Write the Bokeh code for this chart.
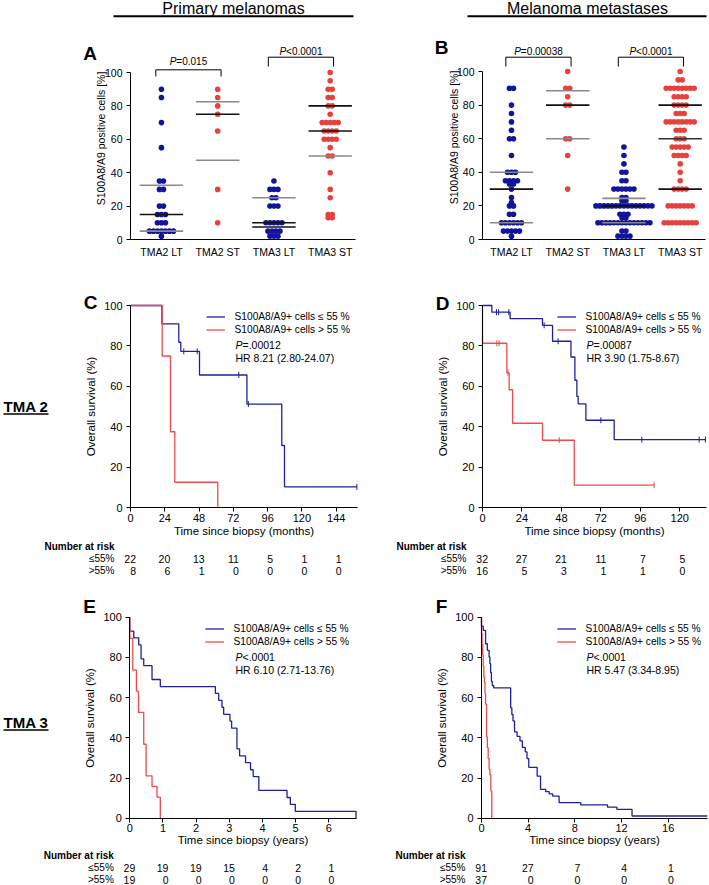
import numpy as np
from bokeh.plotting import figure
from bokeh.models import (Range1d, FixedTicker, Label, LabelSet, Arrow, Legend,
                          LegendItem, ColumnDataSource)
from bokeh.layouts import column, row
from bokeh.embed import file_html
from bokeh.resources import INLINE
from bokeh.core.properties import value

FONT = "Liberation Sans"
DOT_BLUE = "#12149c"
DOT_RED = "#e8413d"
KM_BLUE = "#1f219c"
KM_RED = "#ec4c4c"
DARK = "#111111"
GREY = "#8a8a8a"

# ------------------------------------------------------------------ scatter data
categories = ["TMA2 LT", "TMA2 ST", "TMA3 LT", "TMA3 ST"]

# Panel A - primary melanomas (value in %, number of dots at that value)
A_tma2_lt_vals = [90, 85, 70, 55, 35, 30, 20, 15, 10, 5, 2]
A_tma2_lt_n = [1, 1, 1, 1, 2, 2, 2, 3, 3, 7, 1]
A_tma2_st_vals = [90, 85, 80, 75, 65, 30, 10]
A_tma2_st_n = [1, 1, 1, 1, 1, 1, 1]
A_tma3_lt_vals = [35, 30, 25, 20, 10, 5, 2]
A_tma3_lt_n = [1, 3, 2, 3, 5, 4, 3]
A_tma3_st_vals = [100, 95, 90, 85, 80, 75, 70, 65, 60, 55, 50, 40, 30, 25, 15, 13]
A_tma3_st_n = [1, 1, 2, 2, 2, 1, 5, 4, 4, 1, 2, 1, 1, 1, 2, 2]
A_q1 = [5, 47.5, 7.5, 50]
A_median = [15, 75, 10, 65]
A_q3 = [32.5, 82.5, 25, 80]
A_pvals = ["=0.015", "<0.0001"]

# Panel B - melanoma metastases
B_tma2_lt_vals = [90, 80, 75, 70, 65, 60, 50, 40, 35, 33, 30, 25, 22, 20, 15, 10, 5, 2]
B_tma2_lt_n = [2, 1, 1, 1, 1, 2, 1, 3, 4, 2, 1, 1, 1, 2, 2, 6, 5, 1]
B_tma2_st_vals = [100, 90, 85, 80, 60, 50, 30]
B_tma2_st_n = [1, 2, 1, 2, 2, 1, 1]
B_tma3_lt_vals = [55, 50, 45, 40, 35, 30, 25, 23, 20, 15, 13, 10, 5, 2]
B_tma3_lt_n = [1, 1, 1, 2, 2, 6, 2, 2, 15, 3, 2, 14, 2, 4]
B_tma3_st_vals = [100, 95, 90, 85, 80, 75, 70, 65, 60, 55, 50, 45, 40, 35, 30, 20, 10]
B_tma3_st_n = [1, 2, 8, 4, 4, 3, 8, 3, 3, 5, 4, 1, 1, 1, 4, 7, 9]
B_q1 = [10, 60, 10, 30]
B_median = [30, 80, 20, 60]
B_q3 = [40, 88.5, 24.5, 80]
B_pvals = ["=0.00038", "<0.0001"]

# ------------------------------------------------------------------ survival data
LEG_LE = "S100A8/A9+ cells \u2264 55 %"
LEG_GT = "S100A8/A9+ cells > 55 %"

C_ticks = [0, 24, 48, 72, 96, 120, 144]
C_blue_t = [22, 33.8, 35.2, 48.3, 81.5, 105.9, 107.8]
C_blue_s = [90.9, 81.8, 77.3, 65.6, 51.2, 30.7, 10.2]
C_blue_end = 158.5
C_blue_cens = [37.3, 46.7, 75.8, 82.5, 158.5]
C_red_t = [22.2, 28, 31, 61.1]
C_red_s = [75, 37.5, 12.5, 0]
C_red_end = None
C_red_cens = []
C_risk_le = [22, 20, 13, 11, 5, 1, 1]
C_risk_gt = [8, 6, 1, 0, 0, 0, 0]
C_p = "=.00012"
C_hr = "HR 8.21 (2.80-24.07)"

D_ticks = [0, 24, 48, 72, 96, 120]
D_blue_t = [5.7, 16.8, 36.5, 42.6, 53.8, 56.2, 57.4, 58.2, 62.9, 80.1]
D_blue_s = [96.7, 93.5, 90.2, 82.3, 74.5, 63.0, 55.0, 51.3, 43.2, 33.6]
D_blue_end = 136.0
D_blue_cens = [8.5, 9.8, 16.0, 37.5, 46.0, 72.0, 96.9, 131.8, 135.6]
D_red_t = [0, 14.8, 16.2, 18.3, 36.5, 55.8]
D_red_s = [81.3, 66.7, 58.3, 41.7, 33.3, 11.1]
D_red_end = 104.4
D_red_cens = [8.7, 10.1, 15.5, 46.7, 104.4]
D_risk_le = [32, 27, 21, 11, 7, 5]
D_risk_gt = [16, 5, 3, 1, 1, 0]
D_p = "=.00087"
D_hr = "HR 3.90 (1.75-8.67)"

E_ticks = [0, 1, 2, 3, 4, 5, 6]
E_blue_t = [0, 0.12, 0.27, 0.34, 0.42, 0.67, 0.92, 2.58, 2.68, 2.78, 2.83, 3.02, 3.07,
            3.23, 3.31, 3.49, 3.64, 3.72, 3.89, 4.74, 4.84, 4.99, 6.82]
E_blue_s = [93.1, 89.7, 86.2, 79.3, 75.9, 69.0, 65.5, 62.1, 58.6, 55.2, 51.7, 48.3, 44.8,
            34.5, 31.0, 27.6, 24.1, 20.7, 13.8, 10.3, 6.9, 3.4, 0]
E_blue_end = None
E_blue_cens = []
E_red_t = [0, 0.09, 0.2, 0.26, 0.42, 0.49, 0.67, 0.82, 0.92]
E_red_s = [89.5, 73.7, 63.2, 52.6, 36.8, 21.1, 15.8, 10.5, 0]
E_red_end = None
E_red_cens = []
E_risk_le = [29, 19, 19, 15, 4, 2, 1]
E_risk_gt = [19, 0, 0, 0, 0, 0, 0]
E_p = "<.0001"
E_hr = "HR 6.10 (2.71-13.76)"

F_ticks = [0, 4, 8, 12, 16]
F_blue_t = [0, 0.15, 0.35, 0.5, 0.65, 0.72, 0.78, 0.85, 0.92, 1.05,
            2.5, 2.6, 2.7, 2.83, 3.05, 3.3, 3.5, 3.75, 3.9, 4.05,
            4.77, 5.06, 5.5, 5.8, 6.1, 6.65, 8.5, 10.8, 11.6, 12.9]
F_blue_s = [95.6, 93.4, 86.8, 83.5, 80.2, 76.9, 72.5, 68.1, 66.0, 64.8,
            54.9, 51.6, 48.4, 42.9, 40.7, 38.5, 35.2, 33.0, 29.7, 25.3,
            20.9, 14.3, 13.2, 12.1, 11.0, 7.7, 6.6, 5.5, 4.4, 1.1]
F_blue_end = 19.35
F_blue_cens = []
F_red_t = [0, 0.05, 0.1, 0.15, 0.2, 0.25, 0.3, 0.35, 0.43, 0.5, 0.57, 0.65, 0.72, 0.8, 0.88]
F_red_s = [91.9, 86.5, 81.1, 75.7, 70.3, 67.6, 62.2, 56.8, 40.5, 35.1, 29.7, 24.3, 21.6, 13.5, 0]
F_red_end = None
F_red_cens = []
F_risk_le = [91, 27, 7, 4, 1]
F_risk_gt = [37, 0, 0, 0, 0]
F_p = "<.0001"
F_hr = "HR 5.47 (3.34-8.95)"

# ------------------------------------------------------------------ helpers
CW = {"P": 0.667, "=": 0.584, "<": 0.584, ".": 0.278}


def text_w(s, size):
    return sum(CW.get(ch, 0.556) for ch in s) * size


class Geo:
    """Maps page pixel positions of a figure onto its data ranges."""

    def __init__(self, x0, w, ppx, xval, xref, y0, h, ppy, yval, yref):
        self.x0, self.w, self.ppx = x0, w, ppx
        self.y0, self.h, self.ppy = y0, h, ppy
        self.xs = xval - (xref - x0) / ppx
        self.xe = self.xs + w / ppx
        self.ye = yval + (yref - y0) / ppy
        self.ys = self.ye - h / ppy

    def X(self, rx):
        return self.xs + (rx - self.x0) / self.ppx

    def Y(self, ry):
        return self.ye - (ry - self.y0) / self.ppy


def new_fig(g, xr=None):
    p = figure(width=g.w, height=g.h,
               x_range=xr if xr is not None else Range1d(g.xs, g.xe),
               y_range=Range1d(g.ys, g.ye),
               min_border_left=0, min_border_right=0, min_border_top=0, min_border_bottom=0,
               output_backend="svg", toolbar_location=None)
    p.xgrid.visible = False
    p.ygrid.visible = False
    p.outline_line_color = None
    return p


def style_axis(ax, size="10.5px"):
    ax.axis_line_color = "black"
    ax.axis_line_width = 1
    ax.major_tick_line_color = "black"
    ax.major_tick_in = 0
    ax.major_tick_out = 4
    ax.minor_tick_line_color = None
    ax.major_label_text_font = FONT
    ax.major_label_text_font_size = size
    ax.major_label_text_color = "black"
    ax.axis_label_text_font = FONT
    ax.axis_label_text_font_style = "normal"
    ax.axis_label_text_font_size = "11.5px"
    ax.axis_label_text_color = "black"


def put_label(p, text, x, y, fx=0, size="10.5px", style="normal", align="center",
              baseline="middle", angle=0):
    p.add_layout(Label(x=x, y=y, x_offset=fx, text=text,
                       text_font=FONT, text_font_size=size, text_font_style=style,
                       text_align=align, text_baseline=baseline, angle=angle,
                       text_color="black"))


def put_line(p, x0, y0, x1, y1, width=1.0):
    p.add_layout(Arrow(end=None, start=None, x_start=x0, y_start=y0, x_end=x1, y_end=y1,
                       line_color="black", line_width=width))


def p_text(p, x, y, rest, size, centered=False):
    size_px = float(size.replace("px", ""))
    wp = CW["P"] * size_px
    off = -text_w("P" + rest, size_px) / 2.0 if centered else 0.0
    put_label(p, "P", x, y, fx=off, size=size, style="italic", align="left")
    put_label(p, rest, x, y, fx=off + wp, size=size, align="left")


# ------------------------------------------------------------------ scatter panels
def build_scatter(g, x_left, groups, q1, med, q3, line_cols, pvals, br_top, br_leg, br_text,
                  letter, letter_ref, header, header_ref, uline_ref, ylab_ref):
    p = new_fig(g)
    spacing = 4.0 / g.ppx
    dot_cols = [DOT_BLUE, DOT_RED, DOT_BLUE, DOT_RED]
    xs, ys, cs = [], [], []
    for ci, (vals, ns) in enumerate(groups):
        for v, n in zip(vals, ns):
            for k in range(n):
                xs.append(ci + (k - (n - 1) / 2.0) * spacing)
                ys.append(v)
                cs.append(dot_cols[ci])
    p.scatter(x=xs, y=ys, size=5.6, fill_color=cs, line_color=None)
    hw = 21.7 / g.ppx
    cats = [0, 1, 2, 3]
    for vals, cols in ((q1, line_cols[0]), (med, line_cols[1]), (q3, line_cols[2])):
        p.segment(x0=[c - hw for c in cats], x1=[c + hw for c in cats], y0=vals, y1=vals,
                  line_color=cols, line_width=1.6)

    xa = p.xaxis[0]
    ya = p.yaxis[0]
    style_axis(xa, "10.5px")
    style_axis(ya, "10.5px")
    xa.fixed_location = 0
    xa.bounds = (x_left, 3.45)
    xa.ticker = FixedTicker(ticks=cats)
    xa.major_label_overrides = {i: c for i, c in enumerate(categories)}
    xa.major_tick_out = 0
    xa.major_label_standoff = 6
    ya.fixed_location = x_left
    ya.ticker = FixedTicker(ticks=[0, 20, 40, 60, 80, 100])
    ya.bounds = (0, 100)
    ya.major_label_standoff = 4

    for k, (i, j) in enumerate([(0, 1), (2, 3)]):
        xl, xh = i - 0.1, j + 0.06
        yt, yl = g.Y(br_top[k]), g.Y(br_leg[k])
        put_line(p, xl, yt, xh, yt)
        put_line(p, xl, yl, xl, yt)
        put_line(p, xh, yl, xh, yt)
        p_text(p, (xl + xh) / 2.0, g.Y(br_text[k]), pvals[k], "10px", centered=True)

    put_label(p, letter, g.X(letter_ref[0]), g.Y(letter_ref[1]), size="19px", style="bold")
    put_label(p, header, g.X(header_ref[0]), g.Y(header_ref[1]), size="16px")
    put_line(p, g.X(uline_ref[0]), g.Y(uline_ref[2]), g.X(uline_ref[1]), g.Y(uline_ref[2]),
             width=2)
    put_label(p, "S100A8/A9 positive cells [%]", g.X(ylab_ref[0]), g.Y(ylab_ref[1]),
              size="10.5px", angle=np.pi / 2)
    return p


# ------------------------------------------------------------------ survival panels
def km_path(times, levels, end):
    xs, ys = [0.0], [100.0]
    for t, l in zip(times, levels):
        xs += [t, t]
        ys += [ys[-1], l]
    if end is not None:
        xs.append(end)
        ys.append(ys[-1])
    return xs, ys


def level_at(times, levels, t):
    lev = 100.0
    for ti, li in zip(times, levels):
        if ti <= t:
            lev = li
    return lev


def build_km(g, xmax, ticks, curves, xlabel, xlab_standoff, letter, letter_ref,
             ptxt, hrtxt, txt_ref, leg_ref, tma=None):
    p = new_fig(g)
    rends = []
    for t, s, end, cens, col in curves:
        xs, ys = km_path(t, s, end)
        rends.append(p.line(xs, ys, line_color=col, line_width=1.3))
        if cens:
            p.scatter(x=cens, y=[level_at(t, s, c) for c in cens], marker="dash",
                      angle=np.pi / 2, size=6, line_color=col, line_width=1)
    pad = 7
    leg_h = 2 * pad + 26
    # empirical correction of the legend anchor (measured on the rendered page)
    vx = leg_ref[0] + 6.5 - g.x0 - pad
    vy = g.h - (leg_ref[1] - 9 - g.y0 - 6.5 - pad) - leg_h
    legend = Legend(items=[LegendItem(label=value(LEG_LE), renderers=[rends[0]]),
                           LegendItem(label=value(LEG_GT), renderers=[rends[1]])],
                    location=(vx, vy), border_line_color=None,
                    background_fill_alpha=0, padding=pad, margin=0, spacing=-2,
                    glyph_width=19, glyph_height=13, label_height=13, label_standoff=10,
                    label_text_font=FONT, label_text_font_size="10.2px",
                    label_text_color="black")
    p.add_layout(legend)

    xa = p.xaxis[0]
    ya = p.yaxis[0]
    style_axis(xa, "11px")
    style_axis(ya, "11px")
    xa.fixed_location = 0
    xa.bounds = (0, xmax)
    xa.ticker = FixedTicker(ticks=ticks)
    xa.major_label_standoff = 2
    xa.axis_label = xlabel
    xa.axis_label_standoff = xlab_standoff
    ya.fixed_location = 0
    ya.ticker = FixedTicker(ticks=[0, 20, 40, 60, 80, 100])
    ya.bounds = (0, 100)
    ya.major_label_standoff = 4
    ya.axis_label = "Overall survival (%)"
    ya.axis_label_standoff = 4

    put_label(p, letter, g.X(letter_ref[0]), g.Y(letter_ref[1]), size="19px", style="bold")
    p_text(p, g.X(txt_ref[0]), g.Y(txt_ref[1]), ptxt, "10.5px")
    put_label(p, hrtxt, g.X(txt_ref[0]), g.Y(txt_ref[1] + 13), size="10.5px", align="left")
    if tma is not None:
        name, rx, ry = tma
        put_label(p, name, g.X(rx), g.Y(ry), size="15px", style="bold", align="left")
        put_line(p, g.X(rx), g.Y(ry + 7.5), g.X(rx + 45), g.Y(ry + 7.5), width=1.5)
    return p


def build_risk(g, xr, ticks, le, gt):
    p = new_fig(g, xr=xr)
    p.xaxis.visible = False
    ya = p.yaxis[0]
    ya.fixed_location = 0
    ya.ticker = FixedTicker(ticks=[1, 2])
    ya.major_label_overrides = {1: ">55%", 2: "\u226455%"}
    ya.axis_line_color = None
    ya.major_tick_line_color = None
    ya.minor_tick_line_color = None
    ya.major_tick_out = 0
    ya.major_tick_in = 0
    ya.major_label_standoff = 16
    ya.major_label_text_font = FONT
    ya.major_label_text_font_size = "10px"
    ya.major_label_text_color = "black"
    src = ColumnDataSource(dict(t=list(ticks) + list(ticks),
                                r=[2] * len(ticks) + [1] * len(ticks),
                                n=[str(v) for v in list(le) + list(gt)]))
    p.add_layout(LabelSet(x="t", y="r", text="n", source=src, x_offset=5.5,
                          text_align="right", text_baseline="middle",
                          text_font=value(FONT), text_font_size=value("10.5px"),
                          text_color="black"))
    put_label(p, "Number at risk", 0, 3, fx=-16, size="10px", style="bold", align="right")
    return p


# ------------------------------------------------------------------ geometry (page px)
LW, RW = 358, 351
gA = Geo(0, LW, 56.25, -0.55, 130, 0, 262, 1.67, 100, 72)
gB = Geo(LW, RW, 56.24, -0.515, 482, 0, 262, 1.68, 100, 71)
gC = Geo(0, LW, 1.4285, 0, 130, 262, 276, 2.02, 100, 305)
gD = Geo(LW, RW, 1.644, 0, 482, 262, 276, 2.02, 100, 305)
gRC = Geo(0, LW, 1.4285, 0, 130, 538, 40, 12.0, 2, 558)
gRD = Geo(LW, RW, 1.644, 0, 482, 538, 40, 12.0, 2, 558)
gE = Geo(0, LW, 33.17, 0, 129.3, 578, 270, 2.01, 100, 616.7)
gF = Geo(LW, RW, 11.67, 0, 481, 578, 270, 2.01, 100, 616.7)
gRE = Geo(0, LW, 33.17, 0, 129.3, 848, 36, 12.0, 2, 867)
gRF = Geo(LW, RW, 11.67, 0, 481, 848, 36, 12.0, 2, 867)

line_cols_A = [[GREY, GREY, DARK, GREY], [DARK] * 4, [GREY, GREY, GREY, DARK]]
line_cols_B = [[GREY, GREY, GREY, DARK], [DARK, DARK, DARK, "#333333"], [GREY, GREY, GREY, DARK]]

pA = build_scatter(gA, -0.55,
                   [(A_tma2_lt_vals, A_tma2_lt_n), (A_tma2_st_vals, A_tma2_st_n),
                    (A_tma3_lt_vals, A_tma3_lt_n), (A_tma3_st_vals, A_tma3_st_n)],
                   A_q1, A_median, A_q3, line_cols_A, A_pvals,
                   [69.3, 56.7], [76, 66], [61, 50.7],
                   "A", (89.5, 53), "Primary melanomas", (233, 8), (113, 353, 15.7),
                   (100, 138))
pB = build_scatter(gB, -0.515,
                   [(B_tma2_lt_vals, B_tma2_lt_n), (B_tma2_st_vals, B_tma2_st_n),
                    (B_tma3_lt_vals, B_tma3_lt_n), (B_tma3_st_vals, B_tma3_st_n)],
                   B_q1, B_median, B_q3, line_cols_B, B_pvals,
                   [56.7, 56.7], [66, 66], [50.7, 50.7],
                   "B", (441, 47), "Melanoma metastases", (587, 8), (467, 706, 15.7),
                   (453, 137))

pC = build_km(gC, 159, C_ticks,
              [(C_blue_t, C_blue_s, C_blue_end, C_blue_cens, KM_BLUE),
               (C_red_t, C_red_s, C_red_end, C_red_cens, KM_RED)],
              "Time since biopsy (months)", 0, "C", (90, 302), C_p, C_hr, (235, 344),
              (206, 318), tma=("TMA 2", 3, 406))
pD = build_km(gD, 136.3, D_ticks,
              [(D_blue_t, D_blue_s, D_blue_end, D_blue_cens, KM_BLUE),
               (D_red_t, D_red_s, D_red_end, D_red_cens, KM_RED)],
              "Time since biopsy (months)", 0, "D", (442, 303), D_p, D_hr, (586, 344),
              (557, 318))
rC = build_risk(gRC, pC.x_range, C_ticks, C_risk_le, C_risk_gt)
rD = build_risk(gRD, pD.x_range, D_ticks, D_risk_le, D_risk_gt)

pE = build_km(gE, 6.84, E_ticks,
              [(E_blue_t, E_blue_s, E_blue_end, E_blue_cens, KM_BLUE),
               (E_red_t, E_red_s, E_red_end, E_red_cens, KM_RED)],
              "Time since biopsy (years)", -2, "E", (89, 606), E_p, E_hr, (235, 656),
              (205, 630), tma=("TMA 3", 3, 722))
pF = build_km(gF, 19.4, F_ticks,
              [(F_blue_t, F_blue_s, F_blue_end, F_blue_cens, KM_BLUE),
               (F_red_t, F_red_s, F_red_end, F_red_cens, KM_RED)],
              "Time since biopsy (years)", -2, "F", (441, 606), F_p, F_hr, (586, 656),
              (557, 630))
rE = build_risk(gRE, pE.x_range, E_ticks, E_risk_le, E_risk_gt)
rF = build_risk(gRF, pF.x_range, F_ticks, F_risk_le, F_risk_gt)

layout = column(row(pA, pB), row(pC, pD), row(rC, rD), row(pE, pF), row(rE, rF))

open("out.html", "w").write(file_html(layout, INLINE))
